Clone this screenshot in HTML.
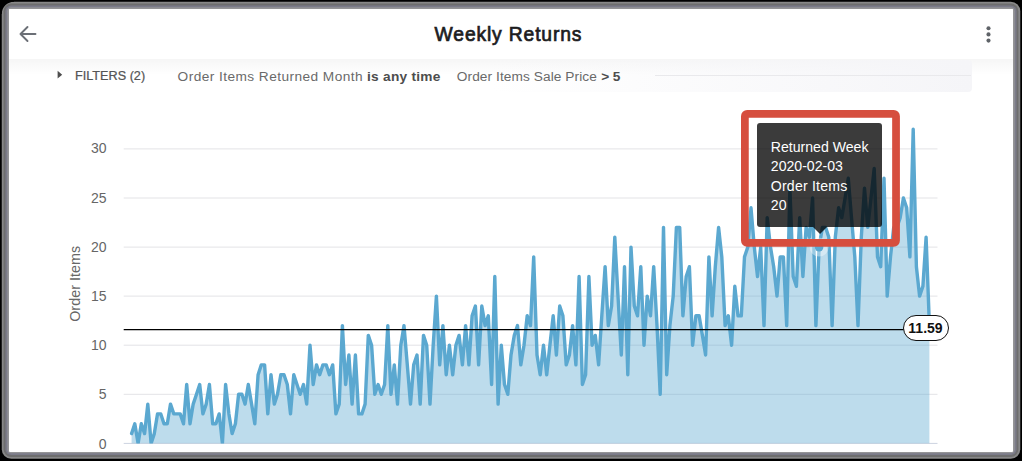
<!DOCTYPE html>
<html><head><meta charset="utf-8"><title>Weekly Returns</title>
<style>
html,body{margin:0;padding:0;}
body{width:1022px;height:461px;background:#000;position:relative;overflow:hidden;font-family:"Liberation Sans",sans-serif;}
#bezel{position:absolute;left:2px;top:2px;width:1018px;height:456.5px;background:#7f7f82;border-radius:11px 9px 9px 9px;}
#screen{position:absolute;left:9.1px;top:9.1px;width:1003.7px;height:442.5px;background:#fff;border-radius:1px;overflow:hidden;}
#hdr{position:absolute;left:0;top:0;width:1004px;height:50px;background:#fff;}
#shade{position:absolute;left:0;top:50px;width:1004px;height:16px;background:linear-gradient(to bottom,rgba(0,0,0,0.035),rgba(0,0,0,0));}
#fbar{position:absolute;left:0px;top:50.5px;width:962.5px;height:32px;border-radius:0 4px 4px 0;background:linear-gradient(to right,rgba(243,243,246,0) 0%,rgba(243,243,246,0) 50%,rgba(245,245,248,1) 100%);}
#fline{position:absolute;left:646px;top:66px;width:316px;height:1px;background:#e9e9ec;}
#title{position:absolute;left:0;top:13.5px;width:998px;text-align:center;font-size:19px;font-weight:bold;color:#1c1c1e;letter-spacing:0.1px;white-space:nowrap;}
.f{position:absolute;white-space:nowrap;color:#666;font-size:14px;}
svg{position:absolute;left:0;top:0;}
svg text{font-family:"Liberation Sans",sans-serif;}
.ax{font-family:"Liberation Sans",sans-serif;font-size:14px;fill:#666;}
#tip{position:absolute;left:757px;top:123.3px;width:125px;height:104px;background:rgba(0,0,0,0.77);border-radius:3px;color:#fff;font-size:14.1px;line-height:19.5px;box-sizing:border-box;padding:14.4px 0 0 13.8px;white-space:nowrap;}
#caret{position:absolute;left:812.5px;top:227.4px;width:0;height:0;border-left:7px solid transparent;border-right:7px solid transparent;border-top:7px solid rgba(0,0,0,0.77);}
#red{position:absolute;left:740.5px;top:109.5px;width:159.5px;height:137px;box-sizing:border-box;border:7.5px solid #d8503f;border-radius:10px;}
#pill{position:absolute;left:902.5px;top:315px;width:46px;height:25.5px;box-sizing:border-box;border:1.5px solid #111;border-radius:13px;background:#fff;color:#111;font-weight:bold;font-size:14px;text-align:center;line-height:25.9px;}
</style></head>
<body>
<svg width="1022" height="461" viewBox="0 0 1022 461">
 <rect x="1.75" y="1.75" width="1018.55" height="457.0" rx="9.5" fill="#888888"/>
 <rect x="3.6" y="3.6" width="1014.8" height="453.3" rx="7.6" fill="#6e6e6e"/>
 <rect x="5.45" y="5.45" width="1011.1" height="449.6" rx="5.8" fill="#7b7b89"/>
 <rect x="7.3" y="7.3" width="1007.4" height="445.9" rx="4" fill="#959597"/>
 <path d="M0,0 H14 V1.75 A12.25,12.25 0 0 0 1.75,14 H0 Z" fill="#000"/>
</svg>
<div id="screen">
 <div id="hdr"></div>
 <div id="shade"></div>
 <div id="fbar"></div>
 <div id="fline"></div>
</div>

<svg width="1022" height="461" viewBox="0 0 1022 461">
 <!-- back arrow -->
 <g stroke="#6b6f76" stroke-width="1.9" fill="none" stroke-linecap="round" stroke-linejoin="round">
  <path d="M35.5,34 H20.5 M27.5,27 L20.5,34 L27.5,41"/>
 </g>
 <!-- kebab -->
 <g fill="#5f6368"><circle cx="988.5" cy="28.2" r="2.05"/><circle cx="988.5" cy="34.4" r="2.05"/><circle cx="988.5" cy="40.6" r="2.05"/></g>
 <text x="434.6" y="40.5" textLength="146.8" lengthAdjust="spacing" style="font-size:19.3px;fill:#1c1c1e;stroke:#1c1c1e;stroke-width:0.7px;">Weekly Returns</text>
 <text transform="translate(75.0,80) scale(0.925,1)" style="font-size:13.7px;fill:#555;stroke:#555;stroke-width:0.25px;">FILTERS (2)</text>
 <text x="177.6" y="81.3" textLength="185" lengthAdjust="spacing" style="font-size:13.7px;fill:#6a6a6a;">Order Items Returned Month</text>
 <text x="367" y="81.3" textLength="73.4" lengthAdjust="spacing" style="font-size:13.7px;fill:#4d4d4d;font-weight:bold;">is any time</text>
 <text x="456.8" y="81.3" textLength="140" lengthAdjust="spacing" style="font-size:13.7px;fill:#6a6a6a;">Order Items Sale Price</text>
 <text x="601.2" y="81.3" textLength="19.1" lengthAdjust="spacing" style="font-size:13.7px;fill:#4d4d4d;font-weight:bold;">&gt; 5</text>
 <!-- filter triangle -->
 <path d="M57.6,70.8 L62.2,74.7 L57.6,78.6 Z" fill="#4d4d4d"/>
</svg>

<svg width="1022" height="461" viewBox="0 0 1022 461">
 <defs><clipPath id="plot"><rect x="120" y="100" width="830" height="343.4"/></clipPath>
 <clipPath id="scr"><rect x="9" y="9" width="1004" height="442.5"/></clipPath></defs>
 <g clip-path="url(#scr)">
 <line x1="123.7" x2="937.5" y1="394.3" y2="394.3" stroke="#e3e3e6" stroke-width="1"/>
<line x1="123.7" x2="937.5" y1="345.2" y2="345.2" stroke="#e3e3e6" stroke-width="1"/>
<line x1="123.7" x2="937.5" y1="296.1" y2="296.1" stroke="#e3e3e6" stroke-width="1"/>
<line x1="123.7" x2="937.5" y1="247.1" y2="247.1" stroke="#e3e3e6" stroke-width="1"/>
<line x1="123.7" x2="937.5" y1="198.0" y2="198.0" stroke="#e3e3e6" stroke-width="1"/>
<line x1="123.7" x2="937.5" y1="148.9" y2="148.9" stroke="#e3e3e6" stroke-width="1"/>

 <line x1="123.7" x2="937.5" y1="443.4" y2="443.4" stroke="#ccd3e0" stroke-width="1"/>
 <text x="106.5" y="448.7" text-anchor="end" class="ax">0</text>
<text x="106.5" y="398.8" text-anchor="end" class="ax">5</text>
<text x="106.5" y="349.7" text-anchor="end" class="ax">10</text>
<text x="106.5" y="300.6" text-anchor="end" class="ax">15</text>
<text x="106.5" y="251.6" text-anchor="end" class="ax">20</text>
<text x="106.5" y="202.5" text-anchor="end" class="ax">25</text>
<text x="106.5" y="153.4" text-anchor="end" class="ax">30</text>

 <text transform="translate(80,321.8) rotate(-90)" textLength="76" lengthAdjust="spacing" class="ax" style="font-size:14.3px">Order Items</text>
 <g clip-path="url(#plot)">
  <path d="M131.6,433.6 L134.8,423.8 L138.1,443.4 L141.3,423.8 L144.6,433.6 L147.8,404.1 L151.1,443.4 L154.3,433.6 L157.5,413.9 L160.8,413.9 L164.0,423.8 L167.3,423.8 L170.5,404.1 L173.8,413.9 L177.0,413.9 L180.2,413.9 L183.5,423.8 L186.7,384.5 L190.0,423.8 L193.2,404.1 L196.5,394.3 L199.7,384.5 L202.9,413.9 L206.2,404.1 L209.4,384.5 L212.7,423.8 L215.9,423.8 L219.2,413.9 L222.4,443.4 L225.6,384.5 L228.9,413.9 L232.1,433.6 L235.4,423.8 L238.6,394.3 L241.9,394.3 L245.1,404.1 L248.3,384.5 L251.6,404.1 L254.8,423.8 L258.1,374.7 L261.3,364.9 L264.6,364.9 L267.8,413.9 L271.0,374.7 L274.3,404.1 L277.5,394.3 L280.8,374.7 L284.0,374.7 L287.3,384.5 L290.5,413.9 L293.8,374.7 L297.0,384.5 L300.2,394.3 L303.5,384.5 L306.7,404.1 L310.0,345.2 L313.2,384.5 L316.5,364.9 L319.7,374.7 L322.9,364.9 L326.2,364.9 L329.4,374.7 L332.7,364.9 L335.9,413.9 L339.2,404.1 L342.4,325.6 L345.6,384.5 L348.9,355.0 L352.1,404.1 L355.4,355.0 L358.6,413.9 L361.9,413.9 L365.1,404.1 L368.3,335.4 L371.6,345.2 L374.8,394.3 L378.1,384.5 L381.3,394.3 L384.6,384.5 L387.8,325.6 L391.0,394.3 L394.3,364.9 L397.5,404.1 L400.8,345.2 L404.0,325.6 L407.3,364.9 L410.5,404.1 L413.7,364.9 L417.0,355.0 L420.2,404.1 L423.5,335.4 L426.7,345.2 L430.0,404.1 L433.2,345.2 L436.4,296.1 L439.7,364.9 L442.9,325.6 L446.2,374.7 L449.4,345.2 L452.7,374.7 L455.9,345.2 L459.1,335.4 L462.4,364.9 L465.6,325.6 L468.9,364.9 L472.1,315.8 L475.4,306.0 L478.6,364.9 L481.8,306.0 L485.1,325.6 L488.3,315.8 L491.6,384.5 L494.8,276.5 L498.1,404.1 L501.3,345.2 L504.5,384.5 L507.8,394.3 L511.0,355.0 L514.3,335.4 L517.5,325.6 L520.8,364.9 L524.0,345.2 L527.2,315.8 L530.5,325.6 L533.7,256.9 L537.0,355.0 L540.2,374.7 L543.5,345.2 L546.7,374.7 L549.9,345.2 L553.2,315.8 L556.4,355.0 L559.7,306.0 L562.9,315.8 L566.2,364.9 L569.4,355.0 L572.6,325.6 L575.9,364.9 L579.1,276.5 L582.4,384.5 L585.6,374.7 L588.9,276.5 L592.1,345.2 L595.3,335.4 L598.6,364.9 L601.8,315.8 L605.1,266.7 L608.3,325.6 L611.6,306.0 L614.8,237.2 L618.0,296.1 L621.3,355.0 L624.5,266.7 L627.8,374.7 L631.0,247.1 L634.3,306.0 L637.5,315.8 L640.8,266.7 L644.0,345.2 L647.2,296.1 L650.5,315.8 L653.7,266.7 L657.0,325.6 L660.2,394.3 L663.5,227.4 L666.7,374.7 L669.9,325.6 L673.2,296.1 L676.4,227.4 L679.7,227.4 L682.9,315.8 L686.2,276.5 L689.4,266.7 L692.6,345.2 L695.9,315.8 L699.1,315.8 L702.4,335.4 L705.6,355.0 L708.9,256.9 L712.1,315.8 L715.3,266.7 L718.6,227.4 L721.8,256.9 L725.1,325.6 L728.3,315.8 L731.6,345.2 L734.8,286.3 L738.0,315.8 L741.3,315.8 L744.5,256.9 L747.8,247.1 L751.0,207.8 L754.3,247.1 L757.5,276.5 L760.7,247.1 L764.0,325.6 L767.2,217.6 L770.5,247.1 L773.7,266.7 L777.0,296.1 L780.2,256.9 L783.4,256.9 L786.7,325.6 L789.9,188.2 L793.2,276.5 L796.4,286.3 L799.7,217.6 L802.9,276.5 L806.1,227.4 L809.4,237.2 L812.6,198.0 L815.9,325.6 L819.1,247.1 L822.4,227.4 L825.6,227.4 L828.8,237.2 L832.1,325.6 L835.3,237.2 L838.6,207.8 L841.8,217.6 L845.1,198.0 L848.3,178.3 L851.5,217.6 L854.8,256.9 L858.0,325.6 L861.3,237.2 L864.5,188.2 L867.8,227.4 L871.0,198.0 L874.2,168.5 L877.5,256.9 L880.7,266.7 L884.0,178.3 L887.2,296.1 L890.5,256.9 L893.7,227.4 L896.9,227.4 L900.2,217.6 L903.4,198.0 L906.7,207.8 L909.9,256.9 L913.2,129.3 L916.4,266.7 L919.6,296.1 L922.9,286.3 L926.1,237.2 L929.4,325.6 L929.4,443.4 L131.6,443.4 Z" fill="rgba(91,168,208,0.4)" stroke="none"/>
  <path d="M131.6,433.6 L134.8,423.8 L138.1,443.4 L141.3,423.8 L144.6,433.6 L147.8,404.1 L151.1,443.4 L154.3,433.6 L157.5,413.9 L160.8,413.9 L164.0,423.8 L167.3,423.8 L170.5,404.1 L173.8,413.9 L177.0,413.9 L180.2,413.9 L183.5,423.8 L186.7,384.5 L190.0,423.8 L193.2,404.1 L196.5,394.3 L199.7,384.5 L202.9,413.9 L206.2,404.1 L209.4,384.5 L212.7,423.8 L215.9,423.8 L219.2,413.9 L222.4,443.4 L225.6,384.5 L228.9,413.9 L232.1,433.6 L235.4,423.8 L238.6,394.3 L241.9,394.3 L245.1,404.1 L248.3,384.5 L251.6,404.1 L254.8,423.8 L258.1,374.7 L261.3,364.9 L264.6,364.9 L267.8,413.9 L271.0,374.7 L274.3,404.1 L277.5,394.3 L280.8,374.7 L284.0,374.7 L287.3,384.5 L290.5,413.9 L293.8,374.7 L297.0,384.5 L300.2,394.3 L303.5,384.5 L306.7,404.1 L310.0,345.2 L313.2,384.5 L316.5,364.9 L319.7,374.7 L322.9,364.9 L326.2,364.9 L329.4,374.7 L332.7,364.9 L335.9,413.9 L339.2,404.1 L342.4,325.6 L345.6,384.5 L348.9,355.0 L352.1,404.1 L355.4,355.0 L358.6,413.9 L361.9,413.9 L365.1,404.1 L368.3,335.4 L371.6,345.2 L374.8,394.3 L378.1,384.5 L381.3,394.3 L384.6,384.5 L387.8,325.6 L391.0,394.3 L394.3,364.9 L397.5,404.1 L400.8,345.2 L404.0,325.6 L407.3,364.9 L410.5,404.1 L413.7,364.9 L417.0,355.0 L420.2,404.1 L423.5,335.4 L426.7,345.2 L430.0,404.1 L433.2,345.2 L436.4,296.1 L439.7,364.9 L442.9,325.6 L446.2,374.7 L449.4,345.2 L452.7,374.7 L455.9,345.2 L459.1,335.4 L462.4,364.9 L465.6,325.6 L468.9,364.9 L472.1,315.8 L475.4,306.0 L478.6,364.9 L481.8,306.0 L485.1,325.6 L488.3,315.8 L491.6,384.5 L494.8,276.5 L498.1,404.1 L501.3,345.2 L504.5,384.5 L507.8,394.3 L511.0,355.0 L514.3,335.4 L517.5,325.6 L520.8,364.9 L524.0,345.2 L527.2,315.8 L530.5,325.6 L533.7,256.9 L537.0,355.0 L540.2,374.7 L543.5,345.2 L546.7,374.7 L549.9,345.2 L553.2,315.8 L556.4,355.0 L559.7,306.0 L562.9,315.8 L566.2,364.9 L569.4,355.0 L572.6,325.6 L575.9,364.9 L579.1,276.5 L582.4,384.5 L585.6,374.7 L588.9,276.5 L592.1,345.2 L595.3,335.4 L598.6,364.9 L601.8,315.8 L605.1,266.7 L608.3,325.6 L611.6,306.0 L614.8,237.2 L618.0,296.1 L621.3,355.0 L624.5,266.7 L627.8,374.7 L631.0,247.1 L634.3,306.0 L637.5,315.8 L640.8,266.7 L644.0,345.2 L647.2,296.1 L650.5,315.8 L653.7,266.7 L657.0,325.6 L660.2,394.3 L663.5,227.4 L666.7,374.7 L669.9,325.6 L673.2,296.1 L676.4,227.4 L679.7,227.4 L682.9,315.8 L686.2,276.5 L689.4,266.7 L692.6,345.2 L695.9,315.8 L699.1,315.8 L702.4,335.4 L705.6,355.0 L708.9,256.9 L712.1,315.8 L715.3,266.7 L718.6,227.4 L721.8,256.9 L725.1,325.6 L728.3,315.8 L731.6,345.2 L734.8,286.3 L738.0,315.8 L741.3,315.8 L744.5,256.9 L747.8,247.1 L751.0,207.8 L754.3,247.1 L757.5,276.5 L760.7,247.1 L764.0,325.6 L767.2,217.6 L770.5,247.1 L773.7,266.7 L777.0,296.1 L780.2,256.9 L783.4,256.9 L786.7,325.6 L789.9,188.2 L793.2,276.5 L796.4,286.3 L799.7,217.6 L802.9,276.5 L806.1,227.4 L809.4,237.2 L812.6,198.0 L815.9,325.6 L819.1,247.1 L822.4,227.4 L825.6,227.4 L828.8,237.2 L832.1,325.6 L835.3,237.2 L838.6,207.8 L841.8,217.6 L845.1,198.0 L848.3,178.3 L851.5,217.6 L854.8,256.9 L858.0,325.6 L861.3,237.2 L864.5,188.2 L867.8,227.4 L871.0,198.0 L874.2,168.5 L877.5,256.9 L880.7,266.7 L884.0,178.3 L887.2,296.1 L890.5,256.9 L893.7,227.4 L896.9,227.4 L900.2,217.6 L903.4,198.0 L906.7,207.8 L909.9,256.9 L913.2,129.3 L916.4,266.7 L919.6,296.1 L922.9,286.3 L926.1,237.2 L929.4,325.6" fill="none" stroke="#5ba8d0" stroke-width="3.4" stroke-linejoin="round" stroke-linecap="round"/>
 </g>
 <circle cx="819.1" cy="247.1" r="9.5" fill="rgba(255,255,255,0.38)"/>
 <circle cx="819.1" cy="247.1" r="4.3" fill="#5ba8d0"/>
 <line x1="123.7" x2="905" y1="329.6" y2="329.6" stroke="#000" stroke-width="1.1"/>
 </g>
</svg>
<div id="tip">Returned Week<br>2020-02-03<br><span style="letter-spacing:0.2px">Order Items</span><br>20</div>
<div id="caret"></div>
<svg width="1022" height="461" viewBox="0 0 1022 461"><rect x="744.88" y="113.88" width="151.15" height="128.95" rx="2.3" fill="none" stroke="#d64e3e" stroke-width="7.75"/></svg>
<div id="pill">11.59</div>
</body></html>
